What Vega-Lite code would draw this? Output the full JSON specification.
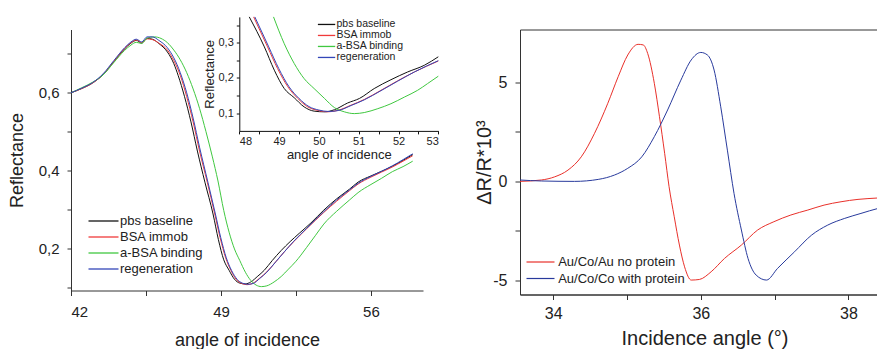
{
  "$schema": "https://vega.github.io/schema/vega-lite/v6.json",
  "background": "white",
  "padding": {"left": 8, "top": 14.5, "right": 0, "bottom": 0},
  "bounds": "flush",
  "spacing": 97,
  "config": {
    "font": "Liberation Sans",
    "axis": {"grid": false, "titleFontWeight": "normal", "domainColor": "#333", "tickColor": "#333", "labelColor": "#222", "titleColor": "#222"},
    "legend": {"symbolType": "M-2,0H2", "labelColor": "#222", "padding": 0}
  },
  "resolve": {"scale": {"color": "independent", "x": "independent", "y": "independent"}},
  "hconcat": [
    {
      "width": 352,
      "height": 261,
      "view": {"stroke": null},
      "resolve": {"scale": {"x": "independent", "y": "independent"}, "axis": {"x": "independent", "y": "independent"}, "legend": {"color": "independent"}},
      "layer": [
        {
          "data": {"values": [
            {"a": 42.0, "r": 0.600, "s": "pbs baseline"}, {"a": 42.5, "r": 0.611, "s": "pbs baseline"}, {"a": 43.0, "r": 0.625, "s": "pbs baseline"}, {"a": 43.5, "r": 0.647, "s": "pbs baseline"}, {"a": 44.0, "r": 0.680, "s": "pbs baseline"}, {"a": 44.5, "r": 0.713, "s": "pbs baseline"}, {"a": 44.8, "r": 0.728, "s": "pbs baseline"}, {"a": 45.05, "r": 0.735, "s": "pbs baseline"}, {"a": 45.3, "r": 0.728, "s": "pbs baseline"}, {"a": 45.55, "r": 0.740, "s": "pbs baseline"}, {"a": 45.8, "r": 0.738, "s": "pbs baseline"}, {"a": 46.1, "r": 0.727, "s": "pbs baseline"}, {"a": 46.5, "r": 0.705, "s": "pbs baseline"}, {"a": 46.8, "r": 0.675, "s": "pbs baseline"}, {"a": 47.0, "r": 0.645, "s": "pbs baseline"}, {"a": 47.3, "r": 0.590, "s": "pbs baseline"}, {"a": 47.6, "r": 0.525, "s": "pbs baseline"}, {"a": 47.9, "r": 0.450, "s": "pbs baseline"}, {"a": 48.25, "r": 0.370, "s": "pbs baseline"}, {"a": 48.63, "r": 0.288, "s": "pbs baseline"}, {"a": 48.88, "r": 0.222, "s": "pbs baseline"}, {"a": 49.13, "r": 0.170, "s": "pbs baseline"}, {"a": 49.38, "r": 0.143, "s": "pbs baseline"}, {"a": 49.63, "r": 0.120, "s": "pbs baseline"}, {"a": 49.88, "r": 0.110, "s": "pbs baseline"}, {"a": 50.14, "r": 0.108, "s": "pbs baseline"}, {"a": 50.39, "r": 0.113, "s": "pbs baseline"}, {"a": 50.72, "r": 0.128, "s": "pbs baseline"}, {"a": 51.02, "r": 0.143, "s": "pbs baseline"}, {"a": 51.39, "r": 0.168, "s": "pbs baseline"}, {"a": 51.81, "r": 0.194, "s": "pbs baseline"}, {"a": 52.23, "r": 0.217, "s": "pbs baseline"}, {"a": 52.65, "r": 0.238, "s": "pbs baseline"}, {"a": 53.2, "r": 0.265, "s": "pbs baseline"}, {"a": 53.8, "r": 0.298, "s": "pbs baseline"}, {"a": 54.4, "r": 0.327, "s": "pbs baseline"}, {"a": 55.0, "r": 0.352, "s": "pbs baseline"}, {"a": 55.4, "r": 0.370, "s": "pbs baseline"}, {"a": 56.0, "r": 0.386, "s": "pbs baseline"}, {"a": 56.5, "r": 0.398, "s": "pbs baseline"}, {"a": 57.0, "r": 0.411, "s": "pbs baseline"}, {"a": 57.5, "r": 0.426, "s": "pbs baseline"}, {"a": 57.95, "r": 0.441, "s": "pbs baseline"},
            {"a": 42.0, "r": 0.600, "s": "BSA immob"}, {"a": 42.5, "r": 0.611, "s": "BSA immob"}, {"a": 43.0, "r": 0.625, "s": "BSA immob"}, {"a": 43.5, "r": 0.647, "s": "BSA immob"}, {"a": 44.0, "r": 0.681, "s": "BSA immob"}, {"a": 44.5, "r": 0.714, "s": "BSA immob"}, {"a": 44.8, "r": 0.729, "s": "BSA immob"}, {"a": 45.05, "r": 0.736, "s": "BSA immob"}, {"a": 45.3, "r": 0.729, "s": "BSA immob"}, {"a": 45.55, "r": 0.739, "s": "BSA immob"}, {"a": 45.8, "r": 0.737, "s": "BSA immob"}, {"a": 46.1, "r": 0.728, "s": "BSA immob"}, {"a": 46.5, "r": 0.710, "s": "BSA immob"}, {"a": 46.8, "r": 0.683, "s": "BSA immob"}, {"a": 47.1, "r": 0.645, "s": "BSA immob"}, {"a": 47.4, "r": 0.590, "s": "BSA immob"}, {"a": 47.7, "r": 0.525, "s": "BSA immob"}, {"a": 48.0, "r": 0.450, "s": "BSA immob"}, {"a": 48.36, "r": 0.370, "s": "BSA immob"}, {"a": 48.71, "r": 0.288, "s": "BSA immob"}, {"a": 48.96, "r": 0.227, "s": "BSA immob"}, {"a": 49.22, "r": 0.175, "s": "BSA immob"}, {"a": 49.47, "r": 0.142, "s": "BSA immob"}, {"a": 49.72, "r": 0.119, "s": "BSA immob"}, {"a": 49.97, "r": 0.109, "s": "BSA immob"}, {"a": 50.22, "r": 0.106, "s": "BSA immob"}, {"a": 50.47, "r": 0.109, "s": "BSA immob"}, {"a": 50.81, "r": 0.123, "s": "BSA immob"}, {"a": 51.14, "r": 0.139, "s": "BSA immob"}, {"a": 51.56, "r": 0.165, "s": "BSA immob"}, {"a": 51.98, "r": 0.192, "s": "BSA immob"}, {"a": 52.4, "r": 0.217, "s": "BSA immob"}, {"a": 53.0, "r": 0.250, "s": "BSA immob"}, {"a": 53.8, "r": 0.292, "s": "BSA immob"}, {"a": 54.4, "r": 0.321, "s": "BSA immob"}, {"a": 55.0, "r": 0.348, "s": "BSA immob"}, {"a": 55.4, "r": 0.365, "s": "BSA immob"}, {"a": 56.0, "r": 0.383, "s": "BSA immob"}, {"a": 56.5, "r": 0.396, "s": "BSA immob"}, {"a": 57.0, "r": 0.409, "s": "BSA immob"}, {"a": 57.5, "r": 0.424, "s": "BSA immob"}, {"a": 57.95, "r": 0.438, "s": "BSA immob"},
            {"a": 42.0, "r": 0.600, "s": "a-BSA binding"}, {"a": 42.5, "r": 0.613, "s": "a-BSA binding"}, {"a": 43.0, "r": 0.627, "s": "a-BSA binding"}, {"a": 43.5, "r": 0.646, "s": "a-BSA binding"}, {"a": 44.0, "r": 0.678, "s": "a-BSA binding"}, {"a": 44.5, "r": 0.709, "s": "a-BSA binding"}, {"a": 44.8, "r": 0.723, "s": "a-BSA binding"}, {"a": 45.05, "r": 0.730, "s": "a-BSA binding"}, {"a": 45.3, "r": 0.727, "s": "a-BSA binding"}, {"a": 45.55, "r": 0.741, "s": "a-BSA binding"}, {"a": 45.9, "r": 0.744, "s": "a-BSA binding"}, {"a": 46.2, "r": 0.740, "s": "a-BSA binding"}, {"a": 46.5, "r": 0.729, "s": "a-BSA binding"}, {"a": 46.8, "r": 0.710, "s": "a-BSA binding"}, {"a": 47.1, "r": 0.685, "s": "a-BSA binding"}, {"a": 47.4, "r": 0.652, "s": "a-BSA binding"}, {"a": 47.7, "r": 0.610, "s": "a-BSA binding"}, {"a": 48.0, "r": 0.560, "s": "a-BSA binding"}, {"a": 48.3, "r": 0.500, "s": "a-BSA binding"}, {"a": 48.6, "r": 0.435, "s": "a-BSA binding"}, {"a": 48.86, "r": 0.373, "s": "a-BSA binding"}, {"a": 49.13, "r": 0.297, "s": "a-BSA binding"}, {"a": 49.38, "r": 0.241, "s": "a-BSA binding"}, {"a": 49.63, "r": 0.198, "s": "a-BSA binding"}, {"a": 49.88, "r": 0.168, "s": "a-BSA binding"}, {"a": 50.14, "r": 0.138, "s": "a-BSA binding"}, {"a": 50.39, "r": 0.117, "s": "a-BSA binding"}, {"a": 50.64, "r": 0.105, "s": "a-BSA binding"}, {"a": 50.89, "r": 0.101, "s": "a-BSA binding"}, {"a": 51.14, "r": 0.103, "s": "a-BSA binding"}, {"a": 51.48, "r": 0.113, "s": "a-BSA binding"}, {"a": 51.81, "r": 0.127, "s": "a-BSA binding"}, {"a": 52.15, "r": 0.146, "s": "a-BSA binding"}, {"a": 52.48, "r": 0.165, "s": "a-BSA binding"}, {"a": 52.73, "r": 0.182, "s": "a-BSA binding"}, {"a": 53.0, "r": 0.202, "s": "a-BSA binding"}, {"a": 53.4, "r": 0.232, "s": "a-BSA binding"}, {"a": 53.8, "r": 0.262, "s": "a-BSA binding"}, {"a": 54.4, "r": 0.295, "s": "a-BSA binding"}, {"a": 55.0, "r": 0.324, "s": "a-BSA binding"}, {"a": 55.4, "r": 0.343, "s": "a-BSA binding"}, {"a": 56.0, "r": 0.364, "s": "a-BSA binding"}, {"a": 56.5, "r": 0.380, "s": "a-BSA binding"}, {"a": 57.0, "r": 0.397, "s": "a-BSA binding"}, {"a": 57.5, "r": 0.410, "s": "a-BSA binding"}, {"a": 57.95, "r": 0.424, "s": "a-BSA binding"},
            {"a": 42.0, "r": 0.600, "s": "regeneration"}, {"a": 42.5, "r": 0.612, "s": "regeneration"}, {"a": 43.0, "r": 0.626, "s": "regeneration"}, {"a": 43.5, "r": 0.649, "s": "regeneration"}, {"a": 44.0, "r": 0.683, "s": "regeneration"}, {"a": 44.5, "r": 0.716, "s": "regeneration"}, {"a": 44.8, "r": 0.731, "s": "regeneration"}, {"a": 45.05, "r": 0.738, "s": "regeneration"}, {"a": 45.3, "r": 0.731, "s": "regeneration"}, {"a": 45.55, "r": 0.744, "s": "regeneration"}, {"a": 45.8, "r": 0.744, "s": "regeneration"}, {"a": 46.1, "r": 0.735, "s": "regeneration"}, {"a": 46.5, "r": 0.716, "s": "regeneration"}, {"a": 46.8, "r": 0.690, "s": "regeneration"}, {"a": 47.1, "r": 0.652, "s": "regeneration"}, {"a": 47.4, "r": 0.600, "s": "regeneration"}, {"a": 47.7, "r": 0.535, "s": "regeneration"}, {"a": 48.0, "r": 0.460, "s": "regeneration"}, {"a": 48.39, "r": 0.370, "s": "regeneration"}, {"a": 48.74, "r": 0.288, "s": "regeneration"}, {"a": 48.99, "r": 0.227, "s": "regeneration"}, {"a": 49.25, "r": 0.175, "s": "regeneration"}, {"a": 49.5, "r": 0.142, "s": "regeneration"}, {"a": 49.75, "r": 0.120, "s": "regeneration"}, {"a": 50.0, "r": 0.110, "s": "regeneration"}, {"a": 50.25, "r": 0.107, "s": "regeneration"}, {"a": 50.5, "r": 0.109, "s": "regeneration"}, {"a": 50.81, "r": 0.122, "s": "regeneration"}, {"a": 51.14, "r": 0.138, "s": "regeneration"}, {"a": 51.56, "r": 0.165, "s": "regeneration"}, {"a": 51.98, "r": 0.192, "s": "regeneration"}, {"a": 52.4, "r": 0.218, "s": "regeneration"}, {"a": 53.0, "r": 0.251, "s": "regeneration"}, {"a": 53.8, "r": 0.294, "s": "regeneration"}, {"a": 54.4, "r": 0.324, "s": "regeneration"}, {"a": 55.0, "r": 0.350, "s": "regeneration"}, {"a": 55.4, "r": 0.367, "s": "regeneration"}, {"a": 56.0, "r": 0.385, "s": "regeneration"}, {"a": 56.5, "r": 0.398, "s": "regeneration"}, {"a": 57.0, "r": 0.412, "s": "regeneration"}, {"a": 57.5, "r": 0.428, "s": "regeneration"}, {"a": 57.95, "r": 0.443, "s": "regeneration"}
          ]},
          "mark": {"type": "line", "strokeWidth": 1, "interpolate": "monotone"},
          "encoding": {
            "x": {"field": "a", "type": "quantitative", "scale": {"domain": [42, 58.43], "nice": false, "zero": false},
              "axis": {"orient": "bottom", "values": [42, 45.5, 49, 52.5, 56], "labelExpr": "(datum.value == 42 || datum.value == 49 || datum.value == 56) ? format(datum.value, 'd') : ''", "tickSize": 5, "labelPadding": 9, "labelFontSize": 15, "title": "angle of incidence", "titleFontSize": 18, "titlePadding": 12}},
            "y": {"field": "r", "type": "quantitative", "scale": {"domain": [0.091, 0.763], "nice": false, "zero": false},
              "axis": {"orient": "left", "values": [0.1, 0.2, 0.3, 0.4, 0.5, 0.6, 0.7], "labelExpr": "(abs(datum.value - 0.2) < 0.01 || abs(datum.value - 0.4) < 0.01 || abs(datum.value - 0.6) < 0.01) ? replace(format(datum.value, '.1f'), '.', ',') : ''", "tickSize": 4, "labelPadding": 8, "labelFontSize": 15, "title": "Reflectance", "titleFontSize": 18, "titlePadding": 12}},
            "color": {"field": "s", "type": "nominal", "sort": null,
              "scale": {"domain": ["pbs baseline", "BSA immob", "a-BSA binding", "regeneration"], "range": ["#111111", "#f03a3a", "#40c840", "#3346b8"]},
              "legend": {"title": null, "orient": "none", "legendX": 24, "legendY": 183, "symbolSize": 225, "symbolStrokeWidth": 1.3, "labelFontSize": 13, "labelOffset": 8, "rowPadding": 0}}
          }
        },
        {
          "data": {"values": [
            {"a": 48.25, "r": 0.373, "s": "pbs baseline"}, {"a": 48.63, "r": 0.288, "s": "pbs baseline"}, {"a": 48.88, "r": 0.222, "s": "pbs baseline"}, {"a": 49.13, "r": 0.170, "s": "pbs baseline"}, {"a": 49.38, "r": 0.144, "s": "pbs baseline"}, {"a": 49.63, "r": 0.118, "s": "pbs baseline"}, {"a": 49.88, "r": 0.106, "s": "pbs baseline"}, {"a": 50.14, "r": 0.104, "s": "pbs baseline"}, {"a": 50.39, "r": 0.110, "s": "pbs baseline"}, {"a": 50.72, "r": 0.129, "s": "pbs baseline"}, {"a": 51.02, "r": 0.142, "s": "pbs baseline"}, {"a": 51.39, "r": 0.170, "s": "pbs baseline"}, {"a": 51.81, "r": 0.195, "s": "pbs baseline"}, {"a": 52.23, "r": 0.217, "s": "pbs baseline"}, {"a": 52.65, "r": 0.236, "s": "pbs baseline"}, {"a": 53.0, "r": 0.260, "s": "pbs baseline"},
            {"a": 48.36, "r": 0.373, "s": "BSA immob"}, {"a": 48.71, "r": 0.288, "s": "BSA immob"}, {"a": 48.96, "r": 0.227, "s": "BSA immob"}, {"a": 49.22, "r": 0.175, "s": "BSA immob"}, {"a": 49.47, "r": 0.142, "s": "BSA immob"}, {"a": 49.72, "r": 0.118, "s": "BSA immob"}, {"a": 49.97, "r": 0.108, "s": "BSA immob"}, {"a": 50.22, "r": 0.104, "s": "BSA immob"}, {"a": 50.47, "r": 0.108, "s": "BSA immob"}, {"a": 50.81, "r": 0.123, "s": "BSA immob"}, {"a": 51.14, "r": 0.139, "s": "BSA immob"}, {"a": 51.56, "r": 0.165, "s": "BSA immob"}, {"a": 51.98, "r": 0.192, "s": "BSA immob"}, {"a": 52.4, "r": 0.217, "s": "BSA immob"}, {"a": 53.0, "r": 0.248, "s": "BSA immob"},
            {"a": 48.86, "r": 0.373, "s": "a-BSA binding"}, {"a": 49.13, "r": 0.297, "s": "a-BSA binding"}, {"a": 49.38, "r": 0.241, "s": "a-BSA binding"}, {"a": 49.63, "r": 0.198, "s": "a-BSA binding"}, {"a": 49.88, "r": 0.170, "s": "a-BSA binding"}, {"a": 50.14, "r": 0.142, "s": "a-BSA binding"}, {"a": 50.39, "r": 0.116, "s": "a-BSA binding"}, {"a": 50.64, "r": 0.104, "s": "a-BSA binding"}, {"a": 50.89, "r": 0.099, "s": "a-BSA binding"}, {"a": 51.14, "r": 0.102, "s": "a-BSA binding"}, {"a": 51.48, "r": 0.113, "s": "a-BSA binding"}, {"a": 51.81, "r": 0.127, "s": "a-BSA binding"}, {"a": 52.15, "r": 0.146, "s": "a-BSA binding"}, {"a": 52.48, "r": 0.165, "s": "a-BSA binding"}, {"a": 52.73, "r": 0.184, "s": "a-BSA binding"}, {"a": 53.0, "r": 0.205, "s": "a-BSA binding"},
            {"a": 48.39, "r": 0.373, "s": "regeneration"}, {"a": 48.74, "r": 0.288, "s": "regeneration"}, {"a": 48.99, "r": 0.227, "s": "regeneration"}, {"a": 49.25, "r": 0.175, "s": "regeneration"}, {"a": 49.5, "r": 0.142, "s": "regeneration"}, {"a": 49.75, "r": 0.119, "s": "regeneration"}, {"a": 50.0, "r": 0.109, "s": "regeneration"}, {"a": 50.25, "r": 0.105, "s": "regeneration"}, {"a": 50.5, "r": 0.108, "s": "regeneration"}, {"a": 50.81, "r": 0.122, "s": "regeneration"}, {"a": 51.14, "r": 0.138, "s": "regeneration"}, {"a": 51.56, "r": 0.164, "s": "regeneration"}, {"a": 51.98, "r": 0.191, "s": "regeneration"}, {"a": 52.4, "r": 0.217, "s": "regeneration"}, {"a": 53.0, "r": 0.249, "s": "regeneration"}
          ]},
          "mark": {"type": "line", "strokeWidth": 1, "interpolate": "monotone"},
          "encoding": {
            "x": {"field": "a", "type": "quantitative", "scale": {"domain": [48, 53], "range": [168.3, 367.3], "nice": false, "zero": false},
              "axis": {"orient": "bottom", "offset": -159.6, "values": [48, 48.5, 49, 49.5, 50, 50.5, 51, 51.5, 52, 52.5, 53], "labelExpr": "datum.value % 1 == 0 ? format(datum.value, 'd') : ''", "tickSize": 3, "labelPadding": 2, "labelFontSize": 11, "title": "angle of incidence", "titleFontSize": 13, "titlePadding": 2, "domainColor": "#111", "tickColor": "#111"}},
            "y": {"field": "r", "type": "quantitative", "scale": {"domain": [0.05, 0.373], "range": [101.4, -12.6], "nice": false, "zero": false},
              "axis": {"orient": "left", "offset": -168.3, "values": [0.1, 0.15, 0.2, 0.25, 0.3, 0.35], "labelExpr": "(abs(datum.value - 0.1) < 0.01 || abs(datum.value - 0.2) < 0.01 || abs(datum.value - 0.3) < 0.01) ? replace(format(datum.value, '.1f'), '.', ',') : ''", "tickSize": 3, "labelPadding": 3, "labelFontSize": 11, "title": "Reflectance", "titleFontSize": 13, "titlePadding": 2, "domainColor": "#111", "tickColor": "#111"}},
            "color": {"field": "s", "type": "nominal", "sort": null,
              "scale": {"domain": ["pbs baseline", "BSA immob", "a-BSA binding", "regeneration"], "range": ["#111111", "#f03a3a", "#40c840", "#3346b8"]},
              "legend": {"title": null, "orient": "none", "legendX": 250.3, "legendY": -10.3, "symbolSize": 75, "symbolStrokeWidth": 1.3, "labelFontSize": 10.5, "labelOffset": 4.7, "rowPadding": 0}}
          }
        }
      ]
    },
    {
      "width": 369,
      "height": 265,
      "view": {"stroke": "#333", "strokeWidth": 1},
      "data": {"values": [
        {"a": 33.55, "v": 0.0, "s": "Au/Co/Au no protein"}, {"a": 33.84, "v": 0.07, "s": "Au/Co/Au no protein"}, {"a": 34.02, "v": 0.23, "s": "Au/Co/Au no protein"}, {"a": 34.2, "v": 0.57, "s": "Au/Co/Au no protein"}, {"a": 34.38, "v": 1.24, "s": "Au/Co/Au no protein"}, {"a": 34.56, "v": 2.43, "s": "Au/Co/Au no protein"}, {"a": 34.74, "v": 3.95, "s": "Au/Co/Au no protein"}, {"a": 34.88, "v": 5.29, "s": "Au/Co/Au no protein"}, {"a": 35.01, "v": 6.39, "s": "Au/Co/Au no protein"}, {"a": 35.15, "v": 6.93, "s": "Au/Co/Au no protein"}, {"a": 35.22, "v": 6.9, "s": "Au/Co/Au no protein"}, {"a": 35.28, "v": 6.47, "s": "Au/Co/Au no protein"}, {"a": 35.37, "v": 4.96, "s": "Au/Co/Au no protein"}, {"a": 35.44, "v": 3.27, "s": "Au/Co/Au no protein"}, {"a": 35.51, "v": 1.42, "s": "Au/Co/Au no protein"}, {"a": 35.57, "v": -0.27, "s": "Au/Co/Au no protein"}, {"a": 35.64, "v": -1.79, "s": "Au/Co/Au no protein"}, {"a": 35.71, "v": -3.22, "s": "Au/Co/Au no protein"}, {"a": 35.78, "v": -4.32, "s": "Au/Co/Au no protein"}, {"a": 35.87, "v": -4.99, "s": "Au/Co/Au no protein"}, {"a": 35.98, "v": -4.96, "s": "Au/Co/Au no protein"}, {"a": 36.14, "v": -4.57, "s": "Au/Co/Au no protein"}, {"a": 36.32, "v": -3.9, "s": "Au/Co/Au no protein"}, {"a": 36.55, "v": -3.22, "s": "Au/Co/Au no protein"}, {"a": 36.77, "v": -2.46, "s": "Au/Co/Au no protein"}, {"a": 36.99, "v": -2.04, "s": "Au/Co/Au no protein"}, {"a": 37.22, "v": -1.7, "s": "Au/Co/Au no protein"}, {"a": 37.45, "v": -1.45, "s": "Au/Co/Au no protein"}, {"a": 37.67, "v": -1.2, "s": "Au/Co/Au no protein"}, {"a": 37.9, "v": -1.03, "s": "Au/Co/Au no protein"}, {"a": 38.13, "v": -0.91, "s": "Au/Co/Au no protein"}, {"a": 38.4, "v": -0.84, "s": "Au/Co/Au no protein"}, {"a": 38.55, "v": -0.8, "s": "Au/Co/Au no protein"},
        {"a": 33.55, "v": 0.07, "s": "Au/Co/Co with protein"}, {"a": 33.84, "v": 0.02, "s": "Au/Co/Co with protein"}, {"a": 34.29, "v": 0.0, "s": "Au/Co/Co with protein"}, {"a": 34.61, "v": 0.1, "s": "Au/Co/Co with protein"}, {"a": 34.83, "v": 0.32, "s": "Au/Co/Co with protein"}, {"a": 35.01, "v": 0.66, "s": "Au/Co/Co with protein"}, {"a": 35.2, "v": 1.24, "s": "Au/Co/Co with protein"}, {"a": 35.37, "v": 2.26, "s": "Au/Co/Co with protein"}, {"a": 35.55, "v": 3.61, "s": "Au/Co/Co with protein"}, {"a": 35.73, "v": 5.12, "s": "Au/Co/Co with protein"}, {"a": 35.87, "v": 6.14, "s": "Au/Co/Co with protein"}, {"a": 36.0, "v": 6.52, "s": "Au/Co/Co with protein"}, {"a": 36.09, "v": 6.39, "s": "Au/Co/Co with protein"}, {"a": 36.18, "v": 5.63, "s": "Au/Co/Co with protein"}, {"a": 36.27, "v": 3.77, "s": "Au/Co/Co with protein"}, {"a": 36.36, "v": 1.58, "s": "Au/Co/Co with protein"}, {"a": 36.45, "v": -0.61, "s": "Au/Co/Co with protein"}, {"a": 36.55, "v": -2.46, "s": "Au/Co/Co with protein"}, {"a": 36.64, "v": -3.9, "s": "Au/Co/Co with protein"}, {"a": 36.75, "v": -4.74, "s": "Au/Co/Co with protein"}, {"a": 36.89, "v": -4.99, "s": "Au/Co/Co with protein"}, {"a": 37.04, "v": -4.4, "s": "Au/Co/Co with protein"}, {"a": 37.27, "v": -3.56, "s": "Au/Co/Co with protein"}, {"a": 37.5, "v": -2.72, "s": "Au/Co/Co with protein"}, {"a": 37.72, "v": -2.21, "s": "Au/Co/Co with protein"}, {"a": 37.95, "v": -1.87, "s": "Au/Co/Co with protein"}, {"a": 38.17, "v": -1.62, "s": "Au/Co/Co with protein"}, {"a": 38.4, "v": -1.37, "s": "Au/Co/Co with protein"}, {"a": 38.55, "v": -1.25, "s": "Au/Co/Co with protein"}
      ]},
      "mark": {"type": "line", "strokeWidth": 1, "interpolate": "monotone", "clip": true},
      "encoding": {
        "x": {"field": "a", "type": "quantitative", "scale": {"domain": [33.55, 38.55], "nice": false, "zero": false},
          "axis": {"values": [34, 35, 36, 37, 38], "labelExpr": "datum.value % 2 == 0 ? format(datum.value, 'd') : ''", "tickSize": 5, "labelPadding": 6, "labelFontSize": 16, "title": "Incidence angle (°)", "titleFontSize": 20, "titlePadding": 7}},
        "y": {"field": "v", "type": "quantitative", "scale": {"domain": [-5.72, 7.68], "nice": false, "zero": false},
          "axis": {"values": [-5, -2.5, 0, 2.5, 5], "labelExpr": "datum.value == -5 ? '-5' : datum.value == 0 ? '0' : datum.value == 5 ? '5' : ''", "tickSize": 5, "labelPadding": 8, "labelFontSize": 16, "title": "ΔR/R*10³", "titleFontSize": 20, "titlePadding": -2}},
        "color": {"field": "s", "type": "nominal", "sort": null,
          "scale": {"domain": ["Au/Co/Au no protein", "Au/Co/Co with protein"], "range": ["#e8302a", "#283a9c"]},
          "legend": {"title": null, "orient": "none", "legendX": 12.5, "legendY": 224.5, "symbolSize": 196, "symbolStrokeWidth": 1.2, "labelFontSize": 13, "labelOffset": 9.7, "rowPadding": 1.5}}
      }
    }
  ]
}
